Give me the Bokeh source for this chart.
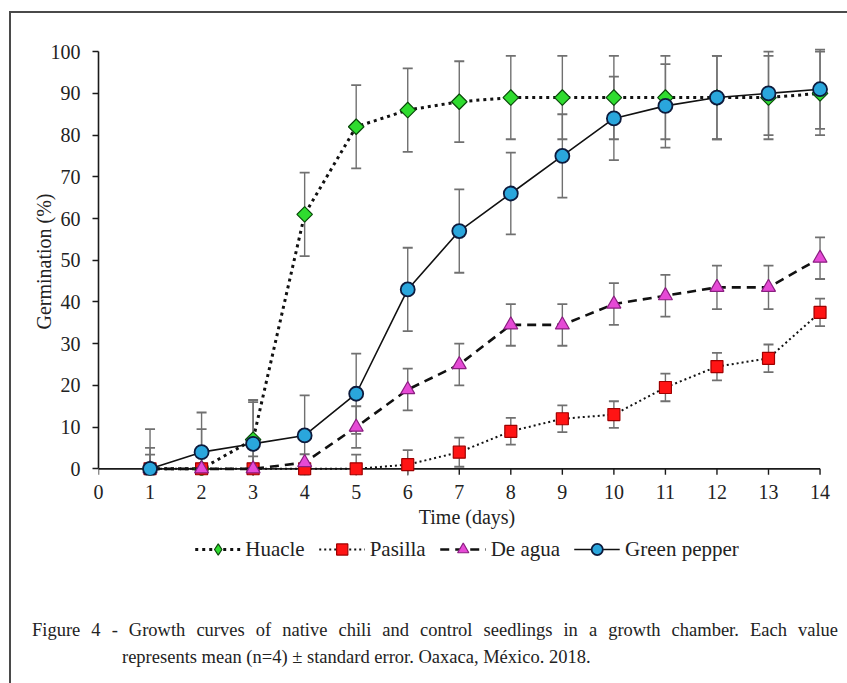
import math
from bokeh.plotting import figure
from bokeh.models import Range1d, Legend, LegendItem, FixedTicker, Div
from bokeh.layouts import column
from bokeh.embed import file_html
from bokeh.resources import INLINE

# ---------------- data ----------------
days = [1, 2, 3, 4, 5, 6, 7, 8, 9, 10, 11, 12, 13, 14]
x_ticks = [0, 1, 2, 3, 4, 5, 6, 7, 8, 9, 10, 11, 12, 13, 14]
y_ticks = [0, 10, 20, 30, 40, 50, 60, 70, 80, 90, 100]

huacle = [0, 0, 7, 61, 82, 86, 88, 89, 89, 89, 89, 89, 89, 90]
huacle_se = [5, 9.5, 9.5, 10, 10, 10, 9.7, 10, 10, 10, 10, 10, 10, 10]

pasilla = [0, 0, 0, 0, 0, 1, 4, 9, 12, 13, 19.5, 24.5, 26.5, 37.5]
pasilla_se = [0, 0, 0, 0, 3.4, 3.5, 3.5, 3.2, 3.2, 3.2, 3.3, 3.3, 3.3, 3.3]

deagua = [0, 0, 0, 1.5, 10, 19, 25, 34.5, 34.5, 39.5, 41.5, 43.5, 43.5, 50.5]
deagua_se = [3.4, 3, 3, 2, 5, 5, 5, 5, 5, 5, 5, 5.2, 5.2, 5]

green = [0, 4, 6, 8, 18, 43, 57, 66, 75, 84, 87, 89, 90, 91]
green_se = [9.5, 9.5, 10, 9.6, 9.6, 10, 10, 9.8, 10, 10, 10, 10, 10, 9.5]

names = ["Huacle", "Pasilla", "De agua", "Green pepper"]
caption_1 = ("Figure 4 - Growth curves of native chili and control seedlings "
             "in a growth chamber. Each value")
caption_2 = "represents mean (n=4) \u00b1 standard error. Oaxaca, M\u00e9xico. 2018."

FONT = "Liberation Serif"
TXT = "#222222"
AX = "#1a1a1a"
ERR = "#707070"

styles = [
    dict(line_width=3, line_dash="3 4", marker="square", angle=math.pi / 4, size=11,
         leg_marker="diamond", leg_size=14,
         fill="#2fdc2f", edge="#0a4a0a", edge_w=1.2),
    dict(line_width=2, line_dash="2 3", marker="square", angle=0, size=12,
         leg_marker="square", leg_size=10,
         fill="#ff1414", edge="#a00000", edge_w=1.2),
    dict(line_width=2.6, line_dash="9 6", marker="triangle", angle=0, size=14,
         leg_marker="triangle", leg_size=11,
         fill="#e64ad6", edge="#8a1f80", edge_w=1.2),
    dict(line_width=1.6, line_dash="solid", marker="circle", angle=0, size=14,
         leg_marker="circle", leg_size=11,
         fill="#2aa6dc", edge="#0d1b3d", edge_w=1.8),
]
series = [(huacle, huacle_se), (pasilla, pasilla_se),
          (deagua, deagua_se), (green, green_se)]

# ---------------- main plot ----------------
p = figure(width=836, height=520,
           output_backend="svg", toolbar_location=None,
           x_range=Range1d(0, 14.3), y_range=Range1d(-1.6, 101),
           min_border_left=87, min_border_right=12,
           min_border_top=34, min_border_bottom=58,
           x_axis_label="Time (days)", y_axis_label="Germination (%)")
p.grid.visible = False
p.outline_line_color = None
p.background_fill_color = "white"
p.border_fill_color = "white"

for ax in (p.xaxis[0], p.yaxis[0]):
    ax.axis_line_color = AX
    ax.axis_line_width = 1.6
    ax.major_tick_line_color = AX
    ax.major_tick_line_width = 1.4
    ax.major_tick_out = 6
    ax.major_tick_in = 0
    ax.minor_tick_line_color = None
    ax.major_label_text_font = FONT
    ax.major_label_text_font_size = "20px"
    ax.major_label_text_color = TXT
    ax.axis_label_text_font = FONT
    ax.axis_label_text_font_size = "20px"
    ax.axis_label_text_font_style = "normal"
    ax.axis_label_text_color = TXT

xa = p.xaxis[0]
xa.ticker = FixedTicker(ticks=x_ticks)
xa.axis_line_color = None
xa.major_tick_line_color = None
xa.major_tick_out = 0
xa.major_label_standoff = 9
xa.axis_label_standoff = 4

ya = p.yaxis[0]
ya.ticker = FixedTicker(ticks=y_ticks)
ya.bounds = (0, 100)
ya.major_label_standoff = 12
ya.axis_label_standoff = -7

# zero line of the x axis with its outward ticks, at y = 0
zero = y_ticks[0]
tick_len = 1.45  # data units (about 6 px)
p.segment(x0=[x_ticks[0]], y0=[zero], x1=[x_ticks[-1]], y1=[zero],
          line_color=AX, line_width=1.6)
p.segment(x0=x_ticks, y0=[zero] * len(x_ticks), x1=x_ticks,
          y1=[zero - tick_len] * len(x_ticks), line_color=AX, line_width=1.4)

for vals, se in series:
    up = [v + e for v, e in zip(vals, se)]
    lo = [v - e for v, e in zip(vals, se)]
    p.segment(x0=days, y0=lo, x1=days, y1=up, line_color=ERR, line_width=1.4)
    p.scatter(days, up, marker="dash", size=10, line_color=ERR, line_width=1.8)
    p.scatter(days, lo, marker="dash", size=10, line_color=ERR, line_width=1.8)

for (vals, se), st in zip(series, styles):
    p.line(days, vals, line_color="#111111", line_width=st["line_width"],
           line_dash=st["line_dash"])
    p.scatter(days, vals, marker=st["marker"], angle=st["angle"], size=st["size"],
              fill_color=st["fill"], line_color=st["edge"], line_width=st["edge_w"])

# ---------------- legend strip ----------------
# the series are drawn again here, out of view, only to feed the legend glyphs
lg = figure(width=836, height=32, output_backend="svg", toolbar_location=None,
            x_range=Range1d(-40, -39), y_range=Range1d(-40, -39),
            min_border_left=86, min_border_right=0, min_border_top=0,
            min_border_bottom=0, x_axis_location=None, y_axis_location=None)
lg.grid.visible = False
lg.outline_line_color = None
lg.border_fill_color = "white"
items = []
for name, (vals, se), st in zip(names, series, styles):
    lr = lg.line(days, vals, line_color="#111111", line_width=st["line_width"],
                 line_dash=st["line_dash"])
    mr = lg.scatter(days, vals, marker=st["leg_marker"], size=st["leg_size"],
                    fill_color=st["fill"], line_color=st["edge"],
                    line_width=st["edge_w"])
    items.append(LegendItem(label=name, renderers=[lr, mr]))
legend = Legend(items=items, orientation="horizontal", location="center",
                glyph_width=46, glyph_height=28, label_standoff=5, spacing=14,
                label_text_font=FONT, label_text_font_size="21px",
                label_text_color=TXT, border_line_color=None,
                background_fill_alpha=0, padding=2, margin=0)
lg.add_layout(legend, "center")

# ---------------- caption ----------------
cap_html = (
    '<div style="font-family:\'Liberation Serif\'; font-size:18.5px; color:#222222;'
    ' line-height:27px; padding-top:47px;">'
    '<div style="margin-left:16px; width:806px; text-align:justify;'
    ' text-align-last:justify; white-space:nowrap;">' + caption_1 + '</div>'
    '<div style="margin-left:106px; white-space:nowrap;">' + caption_2 + '</div>'
    '</div>'
)
cap = Div(text=cap_html, width=836, height=116)

layout = column(p, lg, cap, spacing=0, margin=(11, 0, 0, 9),
                styles={"border-left": "2px solid #4a4a4a",
                        "border-top": "2px solid #4a4a4a"})

open("out.html", "w").write(file_html(layout, INLINE))
